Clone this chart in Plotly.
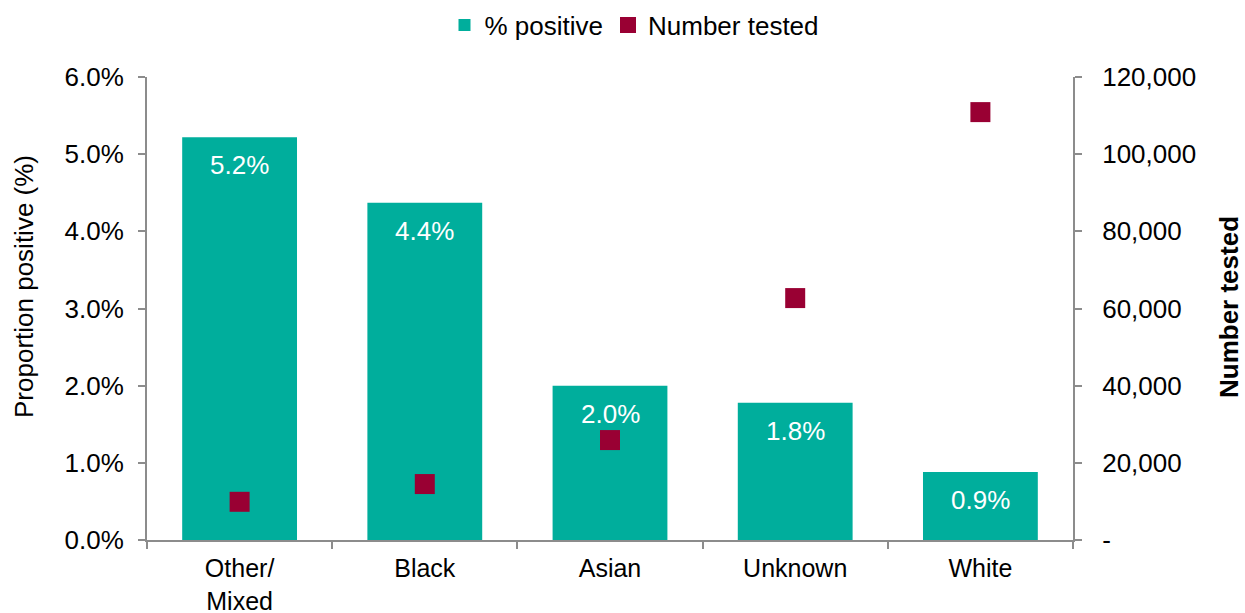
import plotly.graph_objects as go

categories = ["Other/<br>Mixed", "Black", "Asian", "Unknown", "White"]
pct_positive = [5.22, 4.37, 2.0, 1.78, 0.88]
number_tested = [9900, 14500, 25900, 62700, 110900]

left_ticks = [0, 1, 2, 3, 4, 5, 6]
left_ticktext = ["0.0%", "1.0%", "2.0%", "3.0%", "4.0%", "5.0%", "6.0%"]
right_ticks = [0, 20000, 40000, 60000, 80000, 100000, 120000]
right_ticktext = ["-", "20,000", "40,000", "60,000", "80,000", "100,000", "120,000"]

TEAL = "#00AE9C"
CRIMSON = "#990033"
AXIS = "#8C8C8C"
FONT = "Liberation Sans, Arial, sans-serif"
FS = 26

fig = go.Figure()
fig.add_trace(go.Bar(
    x=categories, y=pct_positive, name="% positive",
    marker=dict(color=TEAL, line=dict(width=0)),
    width=0.62,
))
fig.add_trace(go.Scatter(
    x=categories, y=number_tested, name="Number tested", yaxis="y2",
    mode="markers",
    marker=dict(symbol="square", size=20, color=CRIMSON),
))

# value labels inside the top of each bar
for c, v in zip(categories, pct_positive):
    fig.add_annotation(
        x=c, y=v, text=f"{v:.1f}%", showarrow=False,
        yanchor="middle", yshift=-28,
        font=dict(color="white", size=FS, family=FONT),
    )

# axis titles
fig.add_annotation(
    xref="paper", yref="paper", x=0, y=(540 - 287) / 463, xshift=-123,
    text="Proportion positive (%)", textangle=-90, showarrow=False,
    xanchor="center", yanchor="middle", font=dict(size=FS, family=FONT),
)
fig.add_annotation(
    xref="paper", yref="paper", x=1, y=(540 - 307) / 463, xshift=156,
    text="<b>Number tested</b>", textangle=-90, showarrow=False,
    xanchor="center", yanchor="middle", font=dict(size=FS, family=FONT),
)

axis_common = dict(
    showline=True, linecolor=AXIS, linewidth=2,
    ticks="outside", ticklen=7, tickcolor=AXIS, tickwidth=2,
    showgrid=False, zeroline=False, tickfont=dict(size=FS), automargin=False,
)

fig.update_layout(
    width=1245, height=613,
    margin=dict(l=147, r=172, t=77, b=73),
    paper_bgcolor="white", plot_bgcolor="white",
    font=dict(family=FONT, size=FS, color="#000000"),
    showlegend=True,
    legend=dict(orientation="h", x=0.5 + 12 / 1245, xanchor="center", xref="container",
                y=1 - 25 / 613, yanchor="middle", yref="container",
                font=dict(size=FS), itemwidth=30, tracegroupgap=0),
    bargap=0.38,
    xaxis=dict(type="category", tickson="boundaries", ticklabelstandoff=5,
               **{**axis_common, "tickfont": dict(size=25)}),
    yaxis=dict(range=[0, 6], tickvals=left_ticks, ticktext=left_ticktext,
               ticklabelstandoff=9, **axis_common),
    yaxis2=dict(range=[0, 120000], tickvals=right_ticks, ticktext=right_ticktext,
                overlaying="y", side="right", ticklabelstandoff=15, **axis_common),
)

fig.write_html("out.html")
